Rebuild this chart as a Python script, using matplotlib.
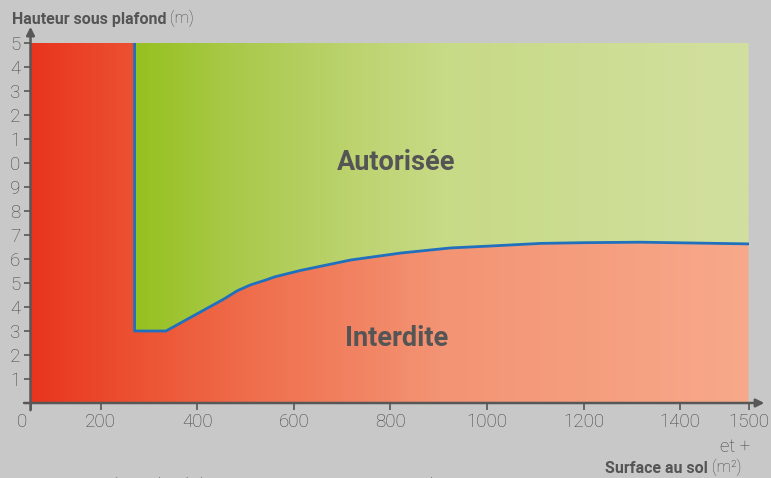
import numpy as np
import matplotlib
matplotlib.use("Agg")
import matplotlib.pyplot as plt
from matplotlib.patches import Polygon
from matplotlib.colors import LinearSegmentedColormap
from matplotlib.transforms import ScaledTranslation

# surface au sol (m2) -> hauteur sous plafond minimale (m)
X_WALL = 270
Y_TOP = 15
LIMIT_X = [270, 270, 335, 454, 483, 510, 541, 561, 613, 718, 822, 924, 1006, 1111, 1200, 1318, 1500]
LIMIT_Y = [15, 3.0, 3.0, 4.32, 4.68, 4.92, 5.12, 5.26, 5.52, 5.96, 6.25, 6.46, 6.54, 6.65, 6.68, 6.7, 6.63]

X_TICKS = [0, 200, 400, 600, 800, 1000, 1200, 1400, 1500]
Y_TICKS = list(range(1, 16))
Y_TICK_LABELS = ["1", "2", "3", "4", "5", "6", "7", "8", "9", "0", "1", "2", "3", "4", "5"]

# l'axe horizontal n'est pas lineaire (0-200 et 1400-1500 resserres)
X_POS = [0, 0.728, 1.728, 2.728, 3.728, 4.728, 5.728, 6.728, 7.436]

BG = "#c8c8c8"
AXIS = "#575757"
TXT = "#555555"
TICK_TXT = "#444444"
BLUE = "#2170bd"

BOLD = ["Liberation Sans Narrow", "Roboto", "DejaVu Sans"]
LIGHT = ["Roboto", "DejaVu Sans"]


def fwd(x):
    return np.interp(x, X_TICKS, X_POS)


def inv(p):
    return np.interp(p, X_POS, X_TICKS)


fig = plt.figure(figsize=(7.71, 4.78), dpi=100, facecolor=BG)
ax = fig.add_axes([30.5 / 771, 1 - 403 / 478, 718 / 771, 360 / 478])
ax.set_facecolor(BG)
ax.set_xscale("function", functions=(fwd, inv))
ax.set_xlim(0, 1500)
ax.set_ylim(0, Y_TOP)

# zones
red_pts = [(0, 0), (0, Y_TOP)] + list(zip(LIMIT_X, LIMIT_Y)) + [(1500, 0)]
green_pts = list(zip(LIMIT_X, LIMIT_Y)) + [(1500, Y_TOP)]
red_patch = Polygon(red_pts, closed=True, facecolor="none", edgecolor="none")
green_patch = Polygon(green_pts, closed=True, facecolor="none", edgecolor="none")
ax.add_patch(red_patch)
ax.add_patch(green_patch)

grad = np.linspace(0, 1, 512).reshape(1, -1)
red_cmap = LinearSegmentedColormap.from_list("rouge", [
    (0.0, "#e8351e"), (0.145, "#ec5232"), (0.30, "#ef6d4b"),
    (0.57, "#f39474"), (1.0, "#f7a98a")])
im_r = ax.imshow(grad, cmap=red_cmap, aspect="auto", extent=[0, 1, 0, 1],
                 transform=ax.transAxes, zorder=1)
im_r.set_clip_path(red_patch)

x_wall = ax.transAxes.inverted().transform(ax.transData.transform((X_WALL, 0)))[0]
green_cmap = LinearSegmentedColormap.from_list("vert", [
    (0.0, "#96c11f"), (0.16, "#a9c94a"), (0.35, "#bcd36e"),
    (0.5, "#c7da86"), (1.0, "#d2e09f")])
im_g = ax.imshow(grad, cmap=green_cmap, aspect="auto", extent=[x_wall, 1, 0, 1],
                 transform=ax.transAxes, zorder=1)
im_g.set_clip_path(green_patch)
ax.set_xlim(0, 1500)
ax.set_ylim(0, Y_TOP)

ax.plot(LIMIT_X, LIMIT_Y, color=BLUE, lw=2.0, zorder=3, solid_joinstyle="round")

ax.text(812, 10.0, "Autorisée", family=BOLD, weight="bold", fontsize=19.5,
        color=TXT, ha="center", va="center", zorder=4)
ax.text(812, 2.7, "Interdite", family=BOLD, weight="bold", fontsize=19.5,
        color=TXT, ha="center", va="center", zorder=4)

# axes
for s in ax.spines.values():
    s.set_visible(False)
ax.annotate("", xy=(0, 1.045), xytext=(0, -0.02), xycoords="axes fraction",
            arrowprops=dict(arrowstyle="-|>", color=AXIS, lw=1.8,
                            mutation_scale=12, shrinkA=0, shrinkB=0), zorder=5)
ax.annotate("", xy=(1.022, 0), xytext=(-0.009, 0), xycoords="axes fraction",
            arrowprops=dict(arrowstyle="-|>", color=AXIS, lw=1.8,
                            mutation_scale=12, shrinkA=0, shrinkB=0), zorder=5)

ax.set_xticks(X_TICKS)
ax.set_xticklabels([str(v) for v in X_TICKS])
ax.set_yticks(Y_TICKS)
ax.set_yticklabels(Y_TICK_LABELS)
ax.xaxis.set_minor_locator(matplotlib.ticker.NullLocator())
ax.tick_params(direction="out", length=5, width=1.2, color=AXIS,
               labelcolor=TICK_TXT, labelsize=13.5, pad=2.5)
for lbl in ax.get_xticklabels() + ax.get_yticklabels():
    lbl.set_family(LIGHT)
    lbl.set_fontweight("light")
zero = ax.get_xticklabels()[0]
zero.set_ha("right")
zero.set_transform(zero.get_transform() + ScaledTranslation(-3 / 100, 0, fig.dpi_scale_trans))

# titres d'axes
t1 = fig.text(12 / 771, 1 - 24 / 478, "Hauteur sous plafond", family=BOLD,
              weight="bold", fontsize=11.5, color=TXT, ha="left", va="baseline")
ax.annotate(" (m)", xy=(1, 0), xycoords=t1, va="bottom", ha="left",
            family=LIGHT, fontweight="light", fontsize=11.5, color=TICK_TXT,
            annotation_clip=False)
fig.text(735 / 771, 1 - 452 / 478, "et +", family=LIGHT, fontweight="light",
         fontsize=13.5, color=TICK_TXT, ha="center", va="baseline")
t2 = fig.text(741 / 771, 1 - 472 / 478, " (m²)", family=LIGHT,
              fontweight="light", fontsize=11.5, color=TICK_TXT, ha="right",
              va="baseline")
ax.annotate("Surface au sol", xy=(0, 0), xycoords=t2, va="bottom", ha="right",
            family=BOLD, weight="bold", fontsize=11.5, color=TXT,
            annotation_clip=False)
fig.text(14 / 771, 1 - 477 / 478, "*Nous consultons la réglementation en vigueur pour chaque projet",
         family=LIGHT, fontweight="light", fontsize=13, color="#333333",
         ha="left", va="top")

fig.savefig("out.png", dpi=100, facecolor=BG)
